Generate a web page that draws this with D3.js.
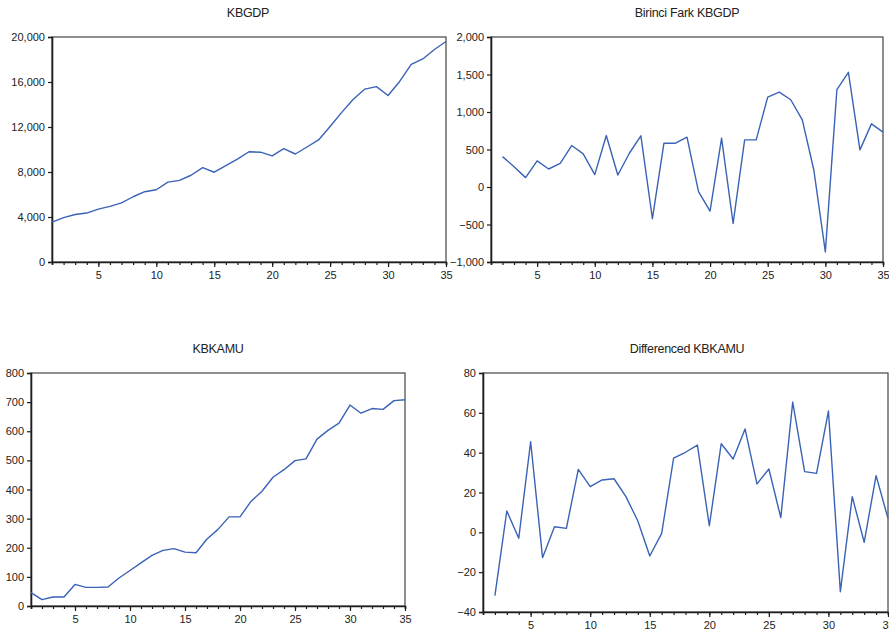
<!DOCTYPE html>
<html><head><meta charset="utf-8">
<script src="https://cdn.jsdelivr.net/npm/d3@7"></script>
<style>body{margin:0;background:#fff}svg{display:block}</style>
</head><body>
<svg id="c" width="889" height="631"></svg>
<script>
const periods = d3.range(1, 36);
const kbgdp = [3550,3950,4220,4350,4700,4940,5250,5800,6250,6420,7100,7260,7710,8390,7980,8560,9140,9800,9760,9440,10080,9600,10220,10850,12050,13300,14470,15370,15590,14800,16050,17560,18050,18890,19600];
const diffKbgdp = [405,270,125,348,240,316,553,441,165,686,160,450,682,-423,584,584,664,-62,-321,651,-486,628,628,1199,1266,1163,896,227,-865,1297,1529,495,842,731];
const kbkamu = [46,22,31,31,74,64,64,65,96,122,148,174,191,197,185,183,230,263,306,306,359,394,442,468,499,505,573,603,628,690,662,678,675,705,708];
const diffKbkamu = [-31.8,10.7,-3,45.5,-12.7,2.8,2,31.6,22.9,26.3,26.9,17.9,5.7,-11.9,-0.5,37.2,40.2,43.8,3.3,44.5,36.8,51.9,24.3,31.8,7.4,65.4,30.5,29.6,60.9,-29.8,17.9,-5,28.5,7];
const titles = ["KBGDP","Birinci Fark KBGDP","KBKAMU","Differenced KBKAMU"];
const yTicks1 = [0,4000,8000,12000,16000,20000];
const yTicks2 = [-1000,-500,0,500,1000,1500,2000];
const yTicks3 = [0,100,200,300,400,500,600,700,800];
const yTicks4 = [-40,-20,0,20,40,60,80];
const xLabels = [5,10,15,20,25,30,35];

const panels = [
  {title:titles[0], x:periods, y:kbgdp, yd:[0,20000], yt:yTicks1, fmt:d3.format(","), L:52, R:446, T:37, B:262, tx:248, ty:17},
  {title:titles[1], x:periods.slice(1), y:diffKbgdp, yd:[-1000,2000], yt:yTicks2, fmt:d3.format(","), L:491, R:883, T:37, B:262, tx:687, ty:17},
  {title:titles[2], x:periods, y:kbkamu, yd:[0,800], yt:yTicks3, fmt:d3.format("d"), L:31, R:405, T:373, B:606, tx:218, ty:353},
  {title:titles[3], x:periods.slice(1), y:diffKbkamu, yd:[-40,80], yt:yTicks4, fmt:d3.format("d"), L:483, R:888, T:373, B:612, tx:687, ty:353}
];

const svg = d3.select("#c");
const font = "'Liberation Sans', Arial, sans-serif";
const lineColor = "#3a62b6";
const axisColor = "#1e1e1e";

panels.forEach(p => {
  const g = svg.append("g");
  const x = d3.scaleLinear().domain([1,35]).range([p.L, p.R]);
  const y = d3.scaleLinear().domain(p.yd).range([p.B, p.T]);
  // frame
  g.append("rect").attr("x", p.L).attr("y", p.T).attr("width", p.R-p.L).attr("height", p.B-p.T)
    .attr("fill","none").attr("stroke","#444").attr("stroke-width",1.2);
  // x minor ticks
  const xa = d3.axisBottom(x).tickValues(periods).tickSize(3).tickFormat("");
  const xg = g.append("g").attr("transform",`translate(0,${p.B})`).call(xa);
  xg.select(".domain").attr("stroke",axisColor).attr("stroke-width",1.6);
  xg.selectAll(".tick line").attr("stroke",axisColor).attr("stroke-width",1.2);
  // x major ticks + labels
  const xb = d3.axisBottom(x).tickValues(xLabels).tickSize(5).tickPadding(4).tickFormat(d3.format("d"));
  const xg2 = g.append("g").attr("transform",`translate(0,${p.B})`).call(xb);
  xg2.select(".domain").remove();
  xg2.selectAll(".tick line").attr("stroke",axisColor).attr("stroke-width",1.2);
  xg2.selectAll("text").attr("font-family",font).attr("font-size",11).attr("fill","#222");
  // y axis
  const ya = d3.axisLeft(y).tickValues(p.yt).tickSize(4).tickPadding(3).tickFormat(p.fmt);
  const yg = g.append("g").attr("transform",`translate(${p.L},0)`).call(ya);
  yg.select(".domain").attr("stroke",axisColor).attr("stroke-width",1.6);
  yg.selectAll(".tick line").attr("stroke",axisColor).attr("stroke-width",1.2);
  yg.selectAll("text").attr("font-family",font).attr("font-size",11).attr("fill","#222");
  // line
  const line = d3.line().x((d,i)=>x(p.x[i])).y(d=>y(d));
  g.append("path").datum(p.y).attr("d", line).attr("fill","none")
    .attr("stroke", lineColor).attr("stroke-width",1.4).attr("stroke-linejoin","round");
  // title
  g.append("text").attr("x", p.tx).attr("y", p.ty).attr("text-anchor","middle")
    .attr("font-family",font).attr("font-size",12.5).attr("letter-spacing","-0.3").attr("fill","#222").text(p.title);
});
</script>
</body></html>
